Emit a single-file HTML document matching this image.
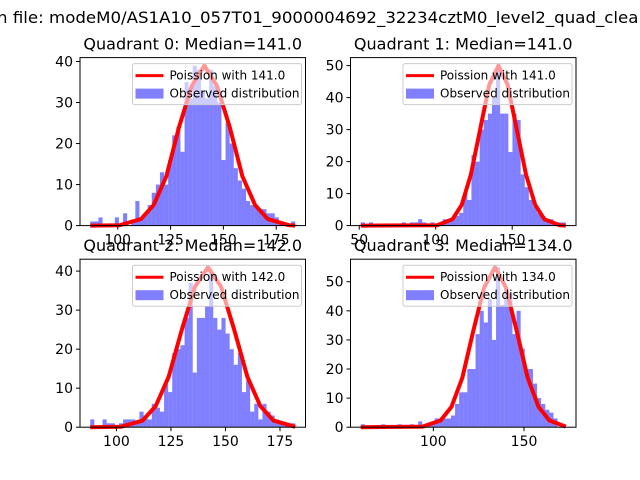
<!DOCTYPE html>
<html><head><meta charset="utf-8"><style>
html,body{margin:0;padding:0;background:#fff;}
svg{display:block;font-family:"DejaVu Sans","Liberation Sans",sans-serif;}
</style></head><body>
<svg id="fig" width="640" height="480" viewBox="0 0 640 480">
<text x="-3" y="23" font-size="16" textLength="652" lengthAdjust="spacingAndGlyphs">n file: modeM0/AS1A10_057T01_9000004692_32234cztM0_level2_quad_clean</text>
</svg>
<script>
// Quadrant 0
const q0Min = 87, q0Max = 184;
const q0Counts = [1,1,2,0,0,0,2,0,3,0,1,6,2,3,5,8,10,13,10,16,22,24,18,35,31,39,38,33,31,38,34,30,16,25,20,14,11,9,6,5,5,4,4,3,3,2,1,0,0,1];
const q0CurveX = [87,101,111,117,123,129,135,141,147,153,159,165,171,181,184];
const q0CurveY = [0,0.1,1.6,5,12,24,34,39,34,24,12,5,1.6,0.1,0];
const q0XTicks = [100,125,150,175];
const q0YTicks = [0,10,20,30,40];
// Quadrant 1
const q1Min = 51, q1Max = 185;
const q1Counts = [1,0,1,0,0,0,0,0,0,0,1,0,1,1,2,1,0,1,0,1,2,2,2,3,4,10,8,22,20,30,33,35,40,50,35,35,23,35,33,16,12,8,6,4,3,2,2,1,1,1];
const q1CurveX = [51,101,111,117,123,129,135,141,147,153,159,165,171,181,185];
const q1CurveY = [0,0.1,2,6.5,16,30,44,50,44,30,16,6.5,2,0.1,0];
const q1XTicks = [50,100,150];
const q1YTicks = [0,10,20,30,40,50];
// Quadrant 2
const q2Min = 88, q2Max = 182;
const q2Counts = [2,0,0,2,1,1,0,1,2,2,2,1,4,3,2,6,5,4,11,9,19,20,21,28,37,14,28,28,31,40,28,25,28,24,20,16,19,9,12,4,6,2,6,4,3,2,1,1,1,1];
const q2CurveX = [88,102,112,118,124,130,136,142,148,154,160,166,172,182];
const q2CurveY = [0,0.1,1.7,5.4,13,25,36,41,36,25,13,5.4,1.7,0.1];
const q2XTicks = [100,125,150,175];
const q2YTicks = [0,10,20,30,40];
// Quadrant 3
const q3Min = 60, q3Max = 173;
const q3Counts = [1,0,0,0,0,1,0,0,0,1,0,0,1,0,2,0,1,1,3,3,3,3,4,8,12,12,20,20,32,40,36,44,30,55,42,48,46,32,40,27,20,20,15,10,8,6,5,3,0,0];
const q3CurveX = [60,94,104,110,116,122,128,134,140,146,152,158,164,173];
const q3CurveY = [0,0.2,2.3,7,17,33,48,55,48,33,17,7,2.3,0.2];
const q3XTicks = [100,150];
const q3YTicks = [0,10,20,30,40,50];

const titles = ["Quadrant 0: Median=141.0","Quadrant 1: Median=141.0","Quadrant 2: Median=142.0","Quadrant 3: Median=134.0"];
const lambdas = ["141.0","141.0","142.0","134.0"];

const NS = "http://www.w3.org/2000/svg";
const svg = document.getElementById('fig');
function mk(tag, attrs, parent){const e=document.createElementNS(NS,tag);for(const k in attrs)e.setAttribute(k,attrs[k]);(parent||svg).appendChild(e);return e;}

const panels = [
 {L:80,T:57.6,W:225.5,H:168,min:q0Min,max:q0Max,counts:q0Counts,cx:q0CurveX,cy:q0CurveY,xt:q0XTicks,yt:q0YTicks},
 {L:350.5,T:57.6,W:225.5,H:168,min:q1Min,max:q1Max,counts:q1Counts,cx:q1CurveX,cy:q1CurveY,xt:q1XTicks,yt:q1YTicks},
 {L:80,T:259.2,W:225.5,H:168,min:q2Min,max:q2Max,counts:q2Counts,cx:q2CurveX,cy:q2CurveY,xt:q2XTicks,yt:q2YTicks},
 {L:350.5,T:259.2,W:225.5,H:168,min:q3Min,max:q3Max,counts:q3Counts,cx:q3CurveX,cy:q3CurveY,xt:q3XTicks,yt:q3YTicks}
];

panels.forEach((p,i)=>{
  const g = mk('g',{});
  
  
  const n = p.counts.length, bw=(p.max-p.min)/n, r=p.max-p.min;
  const x0=p.min-0.05*r, x1=p.max+0.05*r;
  const ymax = Math.max(Math.max(...p.counts), Math.max(...p.cy))*1.05;
  const sx = v=> p.L+(v-x0)/(x1-x0)*p.W;
  const sy = v=> p.T+p.H-(v/ymax)*p.H;
  p.counts.forEach((c,k)=>{
    if(c<=0) return;
    const a=sx(p.min+k*bw), b=sx(p.min+(k+1)*bw);
    const rect=mk('rect',{x:a,y:sy(c),width:b-a,height:sy(0)-sy(c),fill:'#0000ff','fill-opacity':0.5},g);
    
    
  });
  const pts=p.cx.map((x,k)=>sx(x)+','+sy(p.cy[k])).join(' ');
  const line=mk('polyline',{points:pts,fill:'none',stroke:'#ff0000','stroke-width':4,'stroke-linejoin':'round'},g);
  
  
  // legend
  const lw=169, lh=41, lx=p.L+p.W-lw-4, ly=p.T+6;
  const lg=mk('g',{},g);
  
  
  mk('rect',{x:lx,y:ly,width:lw,height:lh,rx:2,fill:'#fff','fill-opacity':0.6,stroke:'#cccccc','stroke-width':1},lg);
  mk('line',{x1:lx+3,y1:ly+12,x2:lx+31,y2:ly+12,stroke:'#ff0000','stroke-width':3},lg);
  const t1=mk('text',{x:lx+37,y:ly+16,'font-size':12},lg); t1.textContent='Poission with '+lambdas[i];
  
  
  mk('rect',{x:lx+3,y:ly+25,width:28,height:10,fill:'#0000ff','fill-opacity':0.5},lg);
  const t2=mk('text',{x:lx+37,y:ly+34,'font-size':12},lg); t2.textContent='Observed distribution';
  
  
  // frame
  mk('rect',{x:p.L,y:p.T,width:p.W,height:p.H,fill:'none',stroke:'#000','stroke-width':1},g);
  p.xt.forEach(v=>{
    const x=sx(v);
    mk('line',{x1:x,y1:p.T+p.H,x2:x,y2:p.T+p.H+4,stroke:'#000'},g);
    const t=mk('text',{x:x,y:p.T+p.H+19,'font-size':14,'text-anchor':'middle'},g); t.textContent=v;
    
    
  });
  p.yt.forEach(v=>{
    const y=sy(v);
    mk('line',{x1:p.L-4,y1:y,x2:p.L,y2:y,stroke:'#000'},g);
    const t=mk('text',{x:p.L-7,y:y+5,'font-size':14,'text-anchor':'end'},g); t.textContent=v;
    
    
  });
  const tt=mk('text',{x:p.L+p.W/2,y:p.T-8,'font-size':16,'text-anchor':'middle'},g); tt.textContent=titles[i];
  
  
});
</script>
</body></html>
